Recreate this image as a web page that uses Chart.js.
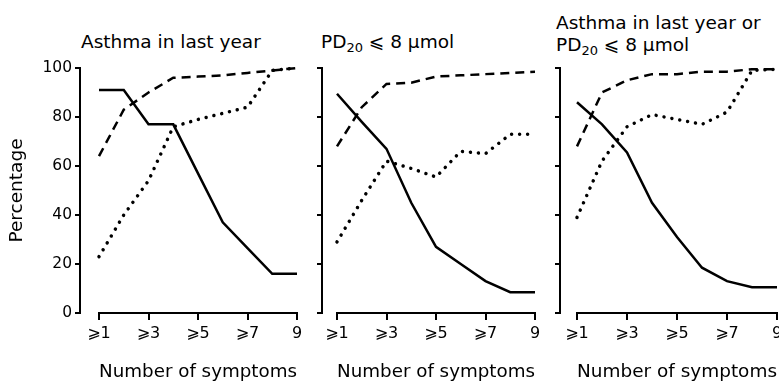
<!DOCTYPE html>
<html>
<head>
<meta charset="utf-8">
<script src="https://cdn.jsdelivr.net/npm/chart.js@4/dist/chart.umd.min.js"></script>
<style>
html, body { margin: 0; padding: 0; background: #fff; overflow: hidden; width: 779px; height: 385px; }
canvas { position: absolute; top: 0; }
.ttl { position: absolute; font-family: "DejaVu Sans"; font-size: 18.5px; line-height: 22px; color: #000; white-space: nowrap; }
.ttl sub { font-size: 13px; vertical-align: -4px; line-height: 0; }
</style>
</head>
<body>
<div class="ttl" style="left:81px; top:31px">Asthma in last year</div>
<div class="ttl" style="left:321px; top:31px">PD<sub>20</sub> ⩽ 8 μmol</div>
<div class="ttl" style="left:556px; top:12px">Asthma in last year or<br>PD<sub>20</sub> ⩽ 8 μmol</div>

<canvas id="p1" width="312" height="385" style="left:0px"></canvas>
<canvas id="p2" width="240" height="385" style="left:312px"></canvas>
<canvas id="p3" width="250" height="385" style="left:552px"></canvas>

<script>
// number of symptoms (x positions) and tick labels
const symptoms = [1, 2, 3, 4, 5, 6, 7, 8, 9]
const xTickValues = [1, 3, 5, 7, 9]
const xTickLabels = ['⩾1', '⩾3', '⩾5', '⩾7', '9']
const yTickValues = [0, 20, 40, 60, 80, 100]

// Asthma in last year
const asthmaSolid = [91, 91, 77, 77, 57, 37, 26.5, 16, 16]
const asthmaDashed = [64, 83, 90, 96, 96.5, 97, 98, 99, 100]
const asthmaDotted = [23, 40, 54, 76, 79, 81.5, 84, 99, 100]

// PD20 <= 8 umol
const pdSolid = [89.5, 78, 67, 45, 27, 20, 13, 8.5, 8.5]
const pdDashed = [68, 84, 93.5, 94, 96.5, 97, 97.5, 98, 98.5]
const pdDotted = [29, 46, 62, 59, 55.5, 66, 65, 73, 73]

// Asthma in last year or PD20 <= 8 umol
const eitherSolid = [86, 77, 65.5, 45, 31, 18.5, 13, 10.5, 10.5]
const eitherDashed = [68, 90, 95, 97.5, 97.5, 98.5, 98.5, 99.5, 99.5]
const eitherDotted = [39, 62, 76, 81, 79, 77, 82, 99, 99.5]

Chart.defaults.font.family = 'DejaVu Sans'
Chart.defaults.color = '#000'

function toPoints(values) {
    return values.map((v, i) => ({ x: symptoms[i], y: v }))
}

function makePanel(id, solid, dashed, dotted, yWidth, gap, padRight, showLabels) {
    const ctx = document.getElementById(id).getContext('2d')
    return new Chart(ctx, {
        type: 'line',
        data: {
            datasets: [
                { data: toPoints(solid), borderColor: '#000', borderWidth: 2.5 },
                { data: toPoints(dashed), borderColor: '#000', borderWidth: 2.5, borderDash: [9, 6] },
                { data: toPoints(dotted), borderColor: '#000', borderWidth: 3.5, borderDash: [0.01, 8], borderCapStyle: 'round' }
            ]
        },
        options: {
            responsive: false,
            animation: false,
            clip: false,
            layout: { padding: { top: 68, right: padRight, bottom: 0, left: 0 } },
            elements: { point: { radius: 0 }, line: { tension: 0, fill: false } },
            plugins: { legend: { display: false }, tooltip: { enabled: false } },
            scales: {
                x: {
                    type: 'linear',
                    min: 1,
                    max: 9,
                    afterBuildTicks: s => { s.ticks = xTickValues.map(v => ({ value: v })) },
                    ticks: {
                        callback: v => xTickLabels[xTickValues.indexOf(v)],
                        font: { size: 16 },
                        padding: 4,
                        maxRotation: 0,
                        autoSkip: false
                    },
                    grid: { drawOnChartArea: false, tickLength: 7, color: '#000', lineWidth: 2 },
                    border: { color: '#000', width: 2 },
                    title: { display: true, text: 'Number of symptoms', font: { size: 18.5 }, padding: { top: 0, bottom: 2 } },
                    afterFit: s => { s.height = 72 }
                },
                y: {
                    type: 'linear',
                    position: 'left',
                    weight: 10,
                    min: 0,
                    max: 100,
                    afterBuildTicks: s => { s.ticks = yTickValues.map(v => ({ value: v })) },
                    ticks: { display: showLabels, font: { size: 15.5 }, padding: 3 },
                    grid: { drawOnChartArea: false, tickLength: 5, color: '#000', lineWidth: 2 },
                    border: { color: '#000', width: 2 },
                    title: { display: showLabels, text: 'Percentage', font: { size: 18.5 }, padding: { top: 6, bottom: 0 } },
                    afterFit: s => { s.width = yWidth }
                },
                gap: {
                    type: 'linear',
                    position: 'left',
                    weight: 0,
                    ticks: { display: false },
                    grid: { display: false },
                    border: { display: false },
                    afterFit: s => { s.width = gap }
                }
            }
        }
    })
}

makePanel('p1', asthmaSolid, asthmaDashed, asthmaDotted, 80, 19, 15, true)
makePanel('p2', pdSolid, pdDashed, pdDotted, 10, 15, 17, false)
makePanel('p3', eitherSolid, eitherDashed, eitherDotted, 8, 17, 25, false)
</script>
</body>
</html>
